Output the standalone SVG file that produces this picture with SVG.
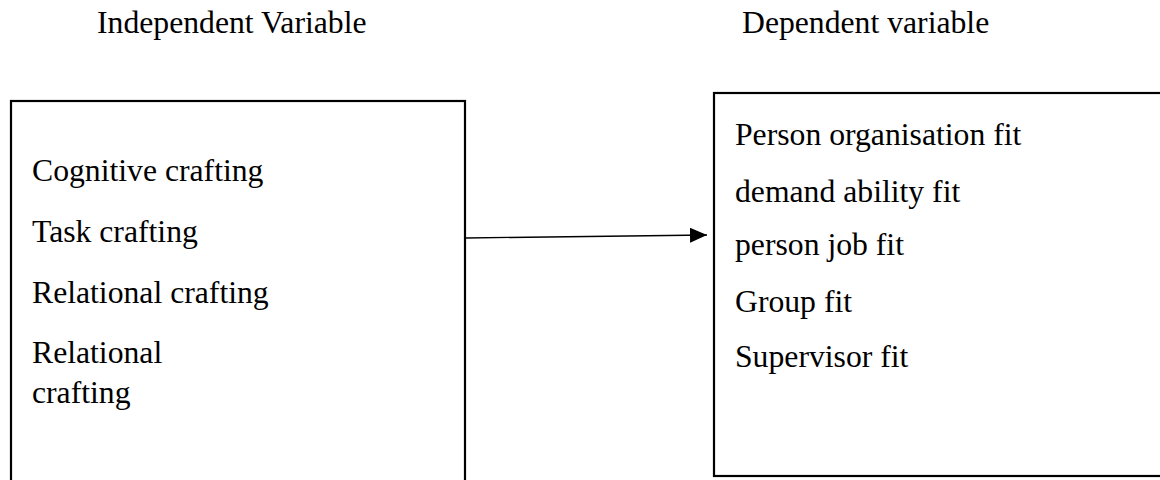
<svg xmlns="http://www.w3.org/2000/svg" width="1160" height="480" viewBox="0 0 1160 480">
<style>
.t{font-family:"Liberation Serif","Times New Roman",serif;font-size:31.7px;fill:#000}
.box{fill:#fff;stroke:#000;stroke-width:2.2}
</style>
<defs>
<marker id="ah" markerWidth="17" markerHeight="15" refX="17" refY="7.5" orient="auto" markerUnits="userSpaceOnUse">
<path d="M0,0 L17,7.5 L0,15 Z" fill="#000"/>
</marker>
</defs>
<rect width="1160" height="480" fill="#fff"/>
<g id="headers">
<text class="t" x="97" y="33">Independent Variable</text>
<text class="t" x="742" y="33">Dependent variable</text>
</g>
<g id="independent">
<rect class="box" x="11" y="101" width="454" height="400"/>
<text class="t" x="32" y="181">Cognitive crafting</text>
<text class="t" x="32" y="242">Task crafting</text>
<text class="t" x="32" y="303">Relational crafting</text>
<text class="t" x="32" y="363">Relational</text>
<text class="t" x="32" y="403">crafting</text>
</g>
<g id="dependent">
<rect class="box" x="714" y="93" width="470" height="383"/>
<text class="t" x="735" y="145">Person organisation fit</text>
<text class="t" x="735" y="202">demand ability fit</text>
<text class="t" x="735" y="255">person job fit</text>
<text class="t" x="735" y="312">Group fit</text>
<text class="t" x="735" y="367">Supervisor fit</text>
</g>
<g id="connectors">
<line x1="466" y1="238" x2="707" y2="235" stroke="#000" stroke-width="1.3" marker-end="url(#ah)"/>
</g>
</svg>
